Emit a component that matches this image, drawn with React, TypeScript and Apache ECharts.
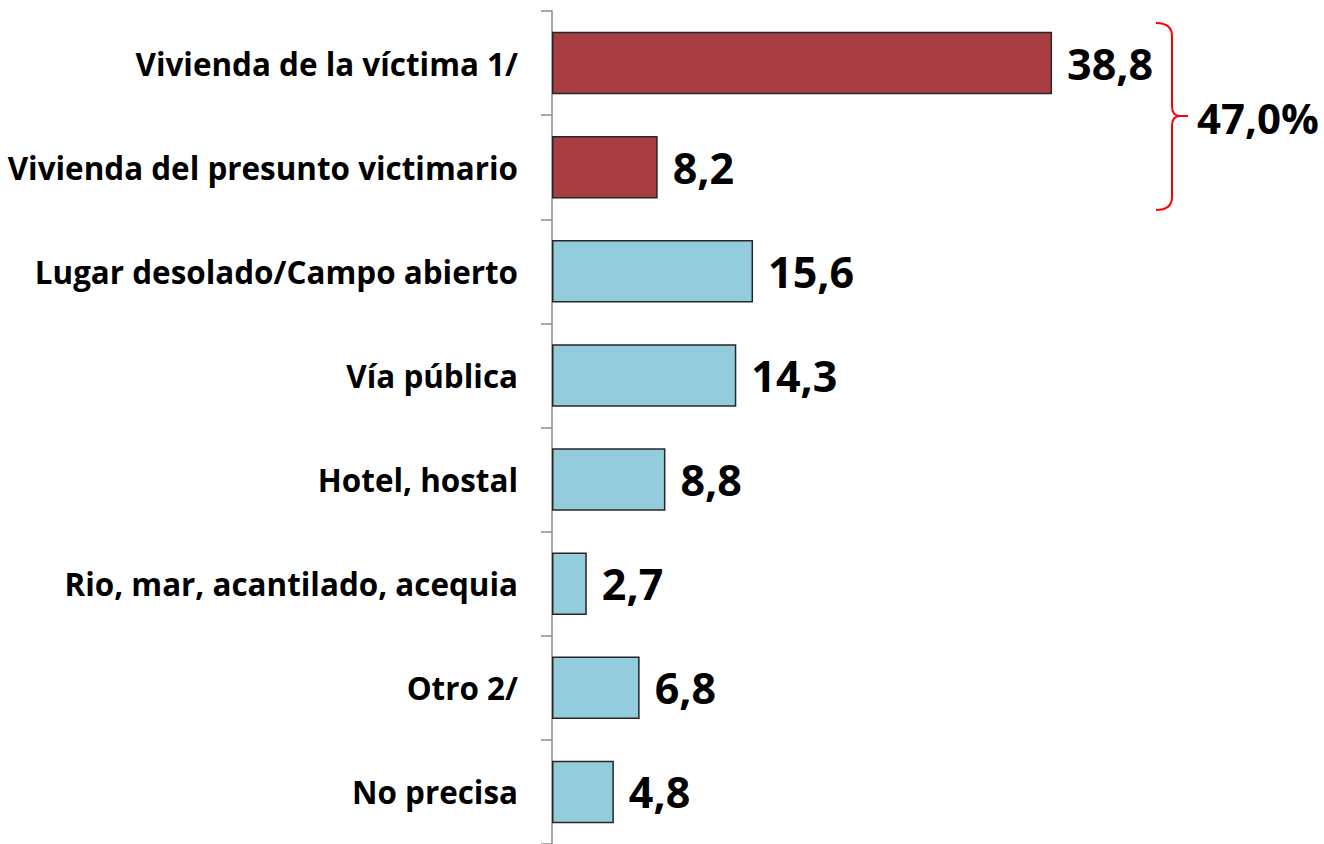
import React, { useEffect, useRef } from "react";
import * as echarts from "echarts";

const categories = [
  "Vivienda de la víctima 1/",
  "Vivienda del presunto victimario",
  "Lugar desolado/Campo abierto",
  "Vía pública",
  "Hotel, hostal",
  "Rio, mar, acantilado, acequia",
  "Otro 2/",
  "No precisa",
];
const values = [38.8, 8.2, 15.6, 14.3, 8.8, 2.7, 6.8, 4.8];
const highlighted = [true, true, false, false, false, false, false, false];

const RED = "#A83E42";
const BLUE = "#93CDDD";
const FONT = "'Open Sans', 'DejaVu Sans', sans-serif";

const bracePath =
  "M1156 23 Q1172 23 1172 36 L1172 106 Q1172 116 1180 116 L1188 116 M1180 116 Q1172 116 1172 126 L1172 197 Q1172 210 1156 210";

let registered = false;

export default function App() {
  const ref = useRef<HTMLDivElement>(null);
  useEffect(() => {
    if (!ref.current) return;
    if (!registered) {
      echarts.graphic.registerShape("brace", echarts.graphic.extendPath(bracePath, {}));
      registered = true;
    }
    const chart = echarts.init(ref.current, null, { renderer: "svg" });
    const total = values
      .filter((_, i) => highlighted[i])
      .reduce((a, b) => a + b, 0);
    const totalLabel = total.toFixed(1).replace(".", ",") + "%";
    chart.setOption({
      animation: false,
      backgroundColor: "#ffffff",
      grid: { left: 552, top: 11, width: 644.4, height: 838, containLabel: false },
      xAxis: {
        type: "value",
        min: 0,
        max: 50,
        show: false,
      },
      yAxis: {
        type: "category",
        inverse: true,
        data: categories,
        axisLine: { show: true, lineStyle: { color: "#8C8C8C", width: 1.5 } },
        axisTick: { show: true, length: 11, lineStyle: { color: "#8C8C8C", width: 1.5 } },
        axisLabel: {
          margin: 34,
          color: "#000",
          fontFamily: FONT,
          fontWeight: "bold",
          fontSize: 31.4,
        },
        splitLine: { show: false },
      },
      series: [
        {
          type: "bar",
          barCategoryGap: "40%",
          data: values.map((v, i) => ({
            value: v,
            itemStyle: { color: highlighted[i] ? RED : BLUE },
          })),
          itemStyle: { borderColor: "#262626", borderWidth: 1.5 },
          label: {
            show: true,
            position: "right",
            distance: 15,
            color: "#000",
            fontFamily: FONT,
            fontWeight: "bold",
            fontSize: 43,
            formatter: (p: any) => String(p.value.toFixed(1)).replace(".", ","),
          },
        },
      ],
      graphic: [
        {
          type: "brace",
          x: 0,
          y: 0,
          style: { fill: "none", stroke: "#FF0000", lineWidth: 2 },
        },
        {
          type: "text",
          x: 1197,
          y: 117,
          style: {
            text: totalLabel,
            fill: "#000",
            font: `bold 42px ${FONT}`,
            textVerticalAlign: "middle",
            verticalAlign: "middle",
          },
        },
      ],
    });
    return () => chart.dispose();
  }, []);
  return (
    <div
      ref={ref}
      style={{ position: "fixed", left: 0, top: 0, width: 1324, height: 844 }}
    />
  );
}
